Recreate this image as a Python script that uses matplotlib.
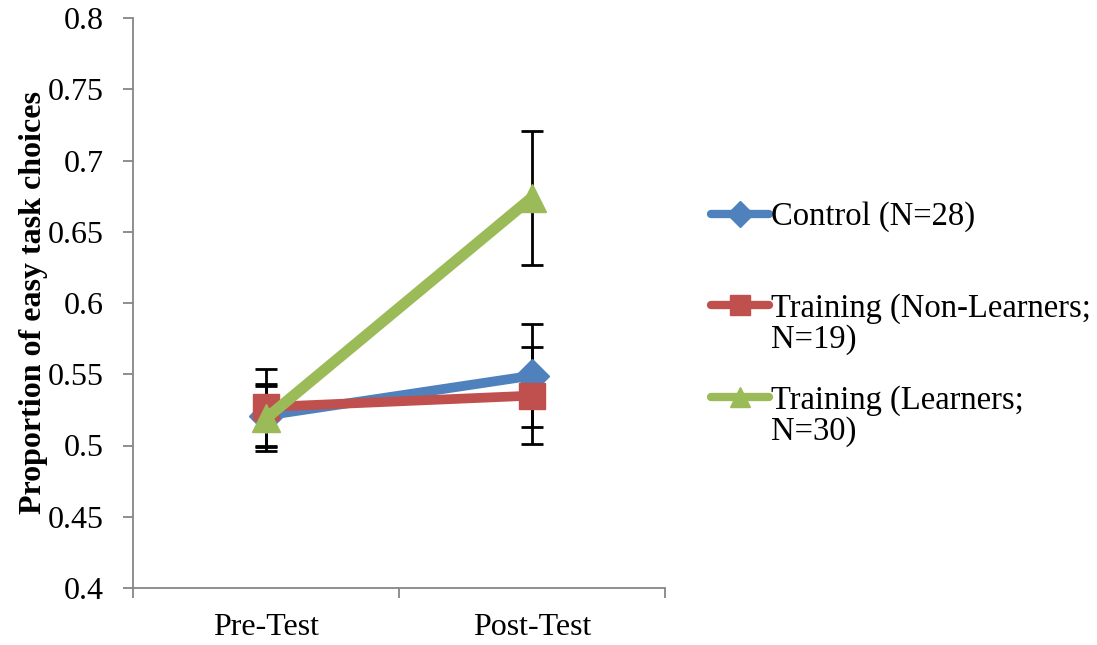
import matplotlib
matplotlib.use("Agg")
import matplotlib.pyplot as plt
from matplotlib.lines import Line2D

plt.rcParams['font.family'] = ['Liberation Serif', 'DejaVu Serif']

categories = ["Pre-Test", "Post-Test"]
series_names = ["Control (N=28)", "Training (Non-Learners;", "Training (Learners;"]
series_cont = ["", "N=19)", "N=30)"]
control = [0.521, 0.549]
control_err = [0.022, 0.036]
nonlearners = [0.527, 0.535]
nonlearners_err = [0.027, 0.034]
learners = [0.519, 0.674]
learners_err = [0.023, 0.047]
yticks = [0.4, 0.45, 0.5, 0.55, 0.6, 0.65, 0.7, 0.75, 0.8]
ytick_labels = ["0.4", "0.45", "0.5", "0.55", "0.6", "0.65", "0.7", "0.75", "0.8"]

colors = ["#4F81BD", "#C0504D", "#9BBB59"]
markers = ["D", "s", "^"]
msizes = [17, 19, 20]

fig = plt.figure(figsize=(10.97, 6.45), dpi=100)
ax = fig.add_axes([133/1097, 1-588/645, (665-133)/1097, (588-18)/645])

x = list(range(len(categories)))
data = [control, nonlearners, learners]
errs = [control_err, nonlearners_err, learners_err]

for i, (vals, e) in enumerate(zip(data, errs)):
    ax.errorbar(x, vals, yerr=e, fmt='none', ecolor='black', elinewidth=2,
                capsize=8, capthick=2, zorder=2)

handles = []
lws = [7, 7, 8]
for i, vals in enumerate(data):
    ln, = ax.plot(x, vals, color=colors[i], lw=lws[i], marker=markers[i],
                  markersize=msizes[i], markerfacecolor=colors[i],
                  markeredgecolor=colors[i], solid_capstyle='round', zorder=3 + i)
    handles.append(ln)

ax.set_ylim(0.4, 0.8)
ax.set_xlim(-0.5, 1.5)
ax.set_yticks(yticks)
ax.set_yticklabels(ytick_labels)
ax.set_xticks(x)
ax.set_xticklabels(categories)
ax.set_xticks([-0.5, 0.5, 1.5], minor=True)
ax.tick_params(axis='x', which='major', length=0, pad=18, labelsize=23)
ax.tick_params(axis='x', which='minor', length=7, width=1.3, color='#868686')
ax.tick_params(axis='y', which='major', length=7, width=1.3, color='#868686',
               pad=14, labelsize=23)

for s in ['top', 'right']:
    ax.spines[s].set_visible(False)
for s in ['left', 'bottom']:
    ax.spines[s].set_color('#868686')
    ax.spines[s].set_linewidth(1.3)

ax.set_ylabel("Proportion of easy task choices", fontsize=23, fontweight='bold', labelpad=0)

blank = Line2D([], [], color='none')
leg_handles = [handles[0], blank, blank, handles[1], blank, blank, handles[2], blank]
leg_labels = [series_names[0], " ", " ", series_names[1], series_cont[1], " ", series_names[2], series_cont[2]]
leg = ax.legend(leg_handles, leg_labels, loc='upper left', bbox_to_anchor=(0.636, 0.708),
                bbox_transform=fig.transFigure, frameon=False, fontsize=23.5,
                handlelength=1.8, handletextpad=0.05, labelspacing=0.0,
                borderaxespad=0, markerscale=0.75)
for h in leg.legend_handles:
    if isinstance(h, Line2D):
        h.set_linewidth(6)

fig.savefig("out.png", dpi=100)
